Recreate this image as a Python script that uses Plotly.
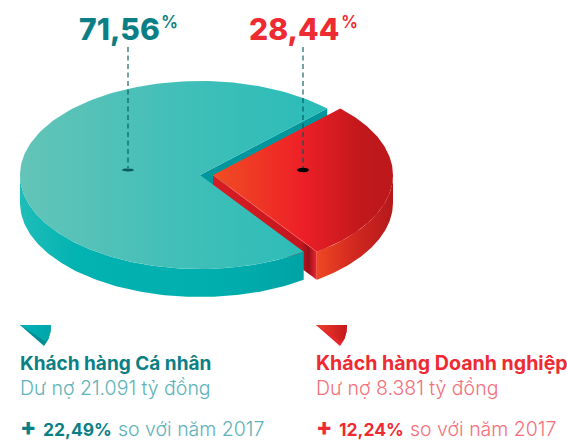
import numpy as np
import plotly.graph_objects as go

segments = ["Khách hàng Cá nhân", "Khách hàng Doanh nghiệp"]
shares = [71.56, 28.44]
share_labels = ["71,56", "28,44"]
debts = ["21.091", "8.381"]
growths = ["22,49", "12,24"]

TEAL_D, RED_D = "#0b7f86", "#ee2a32"
TEAL_L, RED_L = "#5db3b8", "#f4707a"
FONT = "Inter"

cx, cy, rx, ry, depth = 200.0, 175.0, 180.0, 94.0, 28.0
shift = 13.0
start = 45.0
red_sweep = shares[1] * 3.51
end = start - red_sweep


def pts(t0, t1, ox=0.0, oy=0.0, n=160):
    t = np.radians(np.linspace(t0, t1, n))
    return cx + ox + rx * np.cos(t), cy + oy - ry * np.sin(t)


def poly(x, y, stops=None, color=None):
    kw = dict(x=list(x) + [x[0]], y=list(y) + [y[0]], mode="lines", line=dict(width=0),
              fill="toself", hoverinfo="skip", showlegend=False)
    if stops:
        kw["fillgradient"] = dict(type="horizontal", colorscale=stops)
        kw["fillcolor"] = stops[0][1]
    else:
        kw["fillcolor"] = color
    return go.Scatter(**kw)


def concat(*a):
    return np.concatenate(a)


fig = go.Figure()

# teal cut wall behind the red slice
ax, ay = pts(start, start, n=1)
fig.add_trace(poly([cx, ax[0], ax[0], cx], [cy, ay[0], ay[0] + depth, cy + depth], color="#00969c"))

# red outer side
x0, y0 = pts(end, 0, ox=shift)
x1, y1 = pts(0, end, ox=shift, oy=depth)
fig.add_trace(poly(concat(x0, x1), concat(y0, y1),
                   stops=[[0, "#ee4823"], [0.45, "#d42a20"], [1, "#b5181b"]]))
# red cut wall
bx, by = pts(end, end, ox=shift, n=1)
fig.add_trace(poly([cx + shift, bx[0], bx[0], cx + shift],
                   [cy, by[0], by[0] + depth, cy + depth],
                   stops=[[0, "#d81c24"], [0.85, "#c4161d"], [0.92, "#96101a"], [1, "#f0242b"]]))
# red top
x0, y0 = pts(start, end, ox=shift)
fig.add_trace(poly(concat([cx + shift], x0), concat([cy], y0),
                   stops=[[0, "#f04e23"], [0.5, "#ed1f27"], [0.82, "#c1181c"], [1, "#bd181b"]]))
fig.add_trace(go.Scatter(x=[cx + shift, bx[0]], y=[cy, by[0]], mode="lines", hoverinfo="skip", showlegend=False,
                         line=dict(color="rgba(255,120,120,0.55)", width=0.8)))

# teal outer side
x0, y0 = pts(180, 360 + end)
x1, y1 = pts(360 + end, 180, oy=depth)
fig.add_trace(poly(concat(x0, x1), concat(y0, y1),
                   stops=[[0, "#1fbdb9"], [0.2, "#02b3b1"], [0.7, "#00aeae"], [1, "#00a3a6"]]))
# teal top
x0, y0 = pts(start, 360 + end)
fig.add_trace(poly(concat([cx], x0), concat([cy], y0),
                   stops=[[0, "#64c4b8"], [0.5, "#42bfb8"], [1, "#2abcb8"]]))

# leader lines and their feet
leaders = [(128.0, "#0b5c60"), (303.0, "#000000")]
for (lx, c), lr in zip(leaders, [1.6, 2.3]):
    fig.add_trace(go.Scatter(x=[lx, lx], y=[47, 168], mode="lines", hoverinfo="skip", showlegend=False,
                             line=dict(color="rgba(0,85,92,0.78)", width=1.4, dash="5px,3.5px")))
    t = np.radians(np.linspace(0, 360, 40))
    fig.add_trace(poly(lx + 6 * np.cos(t), 170 + lr * np.sin(t), color=c))

# legend wedges
for (lx, a, b, c) in [(20.0, "#00b3b8", "#00a5a8", "#008f95"), (316.0, "#f0422a", "#c4161c", "#e5252b")]:
    wx = [lx, lx + 31, lx + 30.5, lx + 28, lx + 24]
    wy = [325, 325, 332, 340, 346]
    fig.add_trace(poly(wx, wy, color=c))
    fig.add_trace(poly([lx, lx + 31, lx + 30.5, lx + 28.5, lx + 25],
                       [325, 325, 332, 339, 341],
                       stops=[[0, a], [1, b]]))


def note(x, y, text, size, color, weight=400, anchor="left"):
    fig.add_annotation(x=x, y=y, text=text, showarrow=False, xanchor=anchor, yanchor="middle",
                       xref="x", yref="y", align="left",
                       font=dict(family=FONT, size=size, color=color, weight=weight))


note(77, 29, share_labels[0], 30, TEAL_D, 800)
note(159, 22, "%", 17, TEAL_D, 600)
note(247, 29, share_labels[1], 30, RED_D, 800)
note(339, 22, "%", 17, RED_D, 600)

for lx, seg, debt, gr, dk, lt, ss, off in zip([20, 316], segments, debts, growths, [TEAL_D, RED_D],
                                              [TEAL_L, RED_L], [19, 19.6], [96, 92]):
    note(lx - 2, 363, seg, ss, dk, 700)
    note(lx - 2, 388, f"Dư nợ {debt} tỷ đồng", 19.5, lt, 300)
    note(lx - 2, 426, "+", 24, dk, 800)
    note(lx + 21, 429, f"{gr}%", 17.5, dk, 700)
    note(lx + off, 429, "so với năm 2017", 19.5, lt, 300)

fig.update_layout(width=567, height=442, margin=dict(l=0, r=0, t=0, b=0),
                  paper_bgcolor="white", plot_bgcolor="white", showlegend=False,
                  xaxis=dict(range=[0, 567], visible=False, fixedrange=True),
                  yaxis=dict(range=[442, 0], visible=False, fixedrange=True))
fig.write_html("out.html", config=dict(displayModeBar=False),
               post_script="document.body.style.margin='0';document.documentElement.style.overflow='hidden';")
